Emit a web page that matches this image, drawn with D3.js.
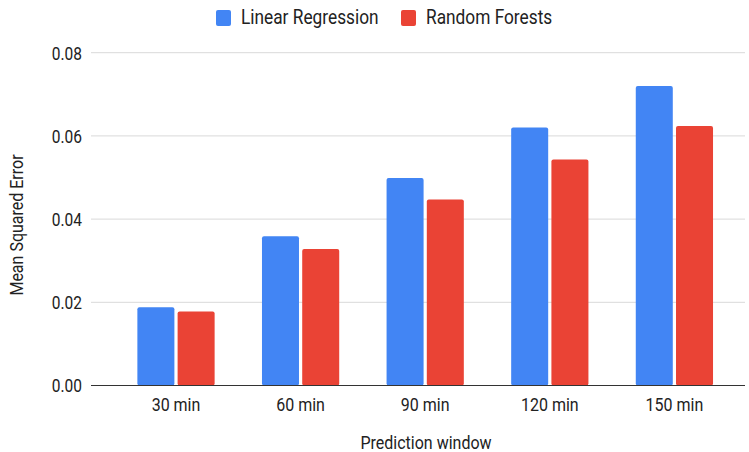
<!DOCTYPE html>
<html>
<head>
<meta charset="utf-8">
<script src="https://cdn.jsdelivr.net/npm/d3@7"></script>
<style>
  html, body { margin: 0; padding: 0; background: #fff; }
  svg text { font-family: Roboto, "Liberation Sans", Arial, sans-serif; fill: #222; }
</style>
</head>
<body>
<svg id="chart" width="749" height="452"></svg>
<script>
// Prediction windows and mean squared error per model
const categories = ["30 min", "60 min", "90 min", "120 min", "150 min"];
const seriesNames = ["Linear Regression", "Random Forests"];
const linearRegression = [0.0188, 0.0359, 0.0499, 0.0620, 0.0720];
const randomForests = [0.0178, 0.0328, 0.0447, 0.0543, 0.0624];
const yTicks = [0, 0.02, 0.04, 0.06, 0.08];
const colors = ["#4285F4", "#EA4335"];

const series = [linearRegression, randomForests];

const svg = d3.select("#chart");
const margin = { left: 91, right: 4 };
const W = 749;
const plotBottom = 385.5, plotTop = 52.7;

// Make glyphs taller while keeping their rendered width (narrow, tall lettering)
function tallText(sel, k) {
  sel.each(function () {
    const t = d3.select(this);
    const w = this.getComputedTextLength();
    const fs = parseFloat(getComputedStyle(this).fontSize);
    t.style("font-size", (fs * k) + "px")
      .attr("textLength", w)
      .attr("lengthAdjust", "spacingAndGlyphs");
  });
}

const y = d3.scaleLinear().domain([0, 0.08]).range([plotBottom, plotTop]);

const x = d3.scaleBand()
  .domain(categories)
  .range([113.7, 736.7])
  .paddingInner(0.38)
  .paddingOuter(0.19);

const xInner = d3.scaleBand()
  .domain(seriesNames)
  .range([0, x.bandwidth()])
  .paddingInner(0.08);

// gridlines
svg.append("g")
  .selectAll("line")
  .data(yTicks.filter(d => d > 0))
  .join("line")
  .attr("x1", margin.left)
  .attr("x2", W - margin.right)
  .attr("y1", d => y(d))
  .attr("y2", d => y(d))
  .attr("stroke", "#d9d9d9")
  .attr("stroke-width", 1);

// y axis labels
const yAxis = d3.axisLeft(y)
  .tickValues(yTicks)
  .tickFormat(d3.format(".2f"))
  .tickSize(0)
  .tickPadding(9);
svg.append("g")
  .attr("transform", `translate(${margin.left},0)`)
  .call(yAxis)
  .call(g => g.select(".domain").remove())
  .call(g => g.selectAll("text")
    .style("font-family", "Roboto, 'Liberation Sans', Arial, sans-serif")
    .style("font-size", "15.5px")
    .attr("dy", "0.36em")
    .attr("fill", "#222"));

// bars
const groups = svg.append("g")
  .selectAll("g")
  .data(categories)
  .join("g")
  .attr("transform", d => `translate(${x(d)},0)`);

groups.selectAll("rect")
  .data((c, i) => seriesNames.map((s, k) => ({ s, k, v: series[k][i] })))
  .join("rect")
  .attr("x", d => xInner(d.s))
  .attr("width", xInner.bandwidth())
  .attr("y", d => y(d.v))
  .attr("height", d => plotBottom - y(d.v))
  .attr("rx", 2)
  .attr("fill", d => colors[d.k]);

// baseline
svg.append("line")
  .attr("x1", margin.left)
  .attr("x2", W - margin.right)
  .attr("y1", plotBottom)
  .attr("y2", plotBottom)
  .attr("stroke", "#333")
  .attr("stroke-width", 1.2);

// x axis labels
const xAxis = d3.axisBottom(x).tickSize(0).tickPadding(13);
svg.append("g")
  .attr("transform", `translate(0,${plotBottom})`)
  .call(xAxis)
  .call(g => g.select(".domain").remove())
  .call(g => g.selectAll("text")
    .style("font-family", "Roboto, 'Liberation Sans', Arial, sans-serif")
    .style("font-size", "16px")
    .attr("fill", "#222"));

// axis titles
svg.append("text")
  .attr("class", "title")
  .attr("x", 426)
  .attr("y", 449)
  .attr("text-anchor", "middle")
  .style("font-size", "16px")
  .text("Prediction window");

svg.append("text")
  .attr("class", "title")
  .attr("transform", "translate(23,225) rotate(-90)")
  .attr("text-anchor", "middle")
  .style("font-size", "16px")
  .text("Mean Squared Error");

// legend
const legendX = [216, 401];
const legend = svg.append("g")
  .selectAll("g")
  .data(seriesNames)
  .join("g")
  .attr("transform", (d, i) => `translate(${legendX[i]},0)`);
legend.append("rect")
  .attr("x", 0).attr("y", 10)
  .attr("width", 15).attr("height", 16)
  .attr("rx", 2)
  .attr("fill", (d, i) => colors[i]);
legend.append("text")
  .attr("x", 25).attr("y", 24)
  .style("font-size", "17.3px")
  .text(d => d);

tallText(svg.selectAll("text"), 1.13);
</script>
</body>
</html>
